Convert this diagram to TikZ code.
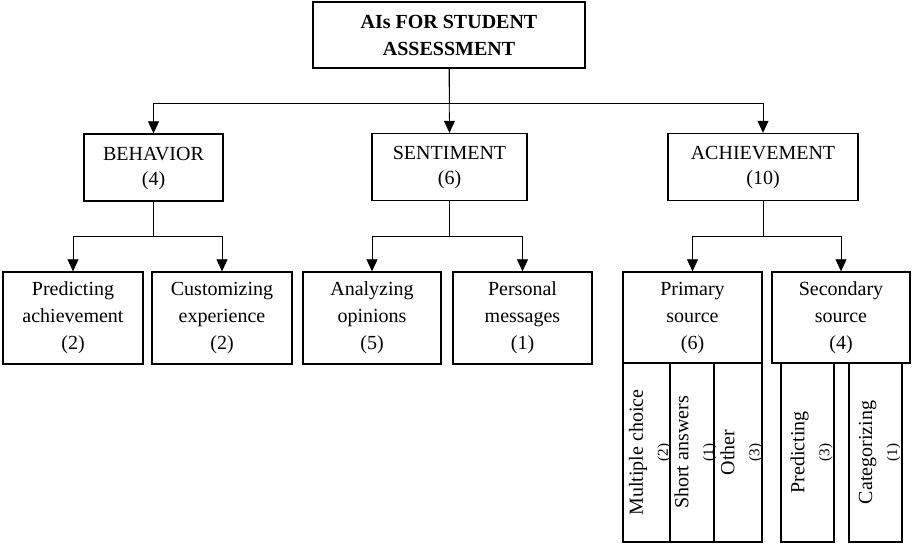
\documentclass[tikz,border=0pt]{standalone}
\usepackage{fontspec}
\setmainfont{Liberation Serif}
\usetikzlibrary{arrows.meta}
\begin{document}
\begin{tikzpicture}[x=1pt,y=-1pt,
  box/.style={draw, line width=1.4pt, inner sep=0pt, align=center, font=\fontsize{20}{25}\selectfont},
  leaf/.style={box, font=\fontsize{20}{27}\selectfont},
  conn/.style={line width=0.8pt},
  arr/.style={conn, -{Triangle[length=12pt,width=11pt]}},
  col/.style={draw, line width=1.4pt, inner sep=0pt, minimum height=179pt},
  coltext/.style={inner sep=0pt, rotate=90, align=center, font=\fontsize{20}{25}\selectfont}]
\useasboundingbox (0,0) rectangle (912,547);
% title
\node[box, minimum width=272pt, minimum height=66pt, font=\fontsize{20}{27}\selectfont\bfseries] (top) at (449,35) {AIs FOR STUDENT\\ASSESSMENT};
% level 1
\node[box, minimum width=139pt, minimum height=67pt, text depth=3pt] (beh) at (153.5,167.5) {BEHAVIOR\\(4)};
\node[box, minimum width=155pt, minimum height=67pt, text depth=3pt] (sen) at (449.5,167) {SENTIMENT\\(6)};
\node[box, minimum width=190pt, minimum height=67pt, text depth=3pt] (ach) at (763,167) {ACHIEVEMENT\\(10)};
\draw[arr] (top.south) -- ++(0,35) -| (beh.north);
\draw[arr] (top.south) -- (sen.north);
\draw[arr] (top.south) -- ++(0,35) -| (ach.north);
% level 2
\node[leaf, minimum width=140pt, minimum height=92pt] (pre) at (73,318) {Predicting\\achievement\\(2)};
\node[leaf, minimum width=140pt, minimum height=92pt] (cus) at (222,318) {Customizing\\experience\\(2)};
\node[leaf, minimum width=138pt, minimum height=92pt] (ana) at (372,318) {Analyzing\\opinions\\(5)};
\node[leaf, minimum width=139pt, minimum height=92pt] (per) at (522.5,318) {Personal\\messages\\(1)};
\node[leaf, minimum width=139pt, minimum height=91pt] (pri) at (692.5,317.5) {Primary\\source\\(6)};
\node[leaf, minimum width=138pt, minimum height=91pt] (sec) at (841,317.5) {Secondary\\source\\(4)};
\draw[arr] (beh.south) -- ++(0,35) -| (pre.north);
\draw[arr] (beh.south) -- ++(0,35) -| (cus.north);
\draw[arr] (sen.south) -- ++(0,35) -| (ana.north);
\draw[arr] (sen.south) -- ++(0,35) -| (per.north);
\draw[arr] (ach.south) -- ++(0,35) -| (pri.north);
\draw[arr] (ach.south) -- ++(0,35) -| (sec.north);
% level 3
\node[col, minimum width=47pt] (mc) at (646.5,452.5) {};
\node[col, minimum width=44pt] (sa) at (692,452.5) {};
\node[col, minimum width=48pt] (ot) at (738,452.5) {};
\node[col, minimum width=53pt] (pd) at (807.5,452.5) {};
\node[col, minimum width=53pt] (ca) at (875.5,452.5) {};
\node[coltext] (mct) at ([xshift=3.5pt]mc.center) {Multiple choice\\{\fontsize{15}{18}\selectfont(2)}};
\node[coltext] (sat) at ([xshift=3.5pt]sa.center) {Short answers\\{\fontsize{15}{18}\selectfont(1)}};
\node[coltext] (ott) at ([xshift=3.5pt]ot.center) {Other\\{\fontsize{15}{18}\selectfont(3)}};
\node[coltext] (pdt) at ([xshift=4pt]pd.center) {Predicting\\{\fontsize{15}{18}\selectfont(3)}};
\node[coltext] (cat) at ([xshift=4pt]ca.center) {Categorizing\\{\fontsize{15}{18}\selectfont(1)}};
\end{tikzpicture}
\end{document}
